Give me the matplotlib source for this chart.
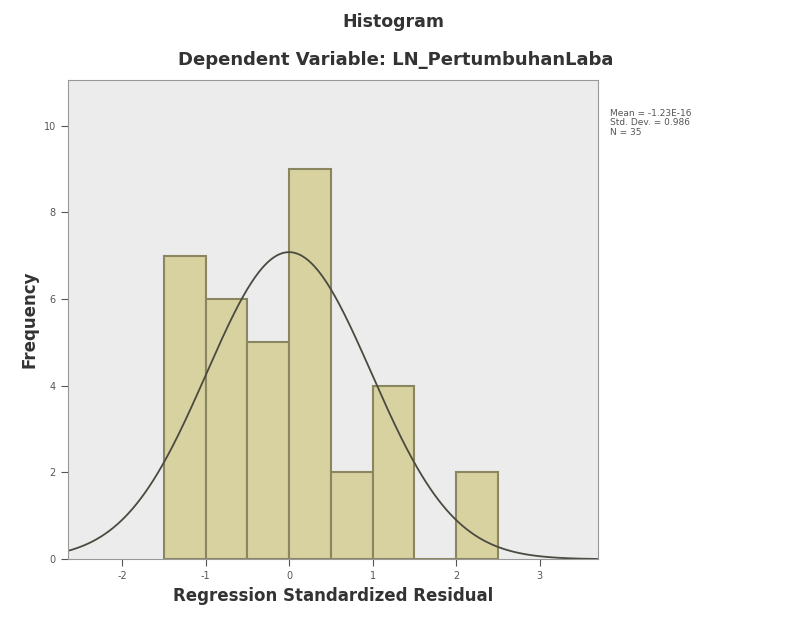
import numpy as np
import matplotlib.pyplot as plt

plt.rcParams["axes.unicode_minus"] = False

# bin edges and counts
bin_edges = [-1.5, -1.0, -0.5, 0.0, 0.5, 1.0, 1.5, 2.0, 2.5]
frequencies = [7, 6, 5, 9, 2, 4, 0, 2]
mean_val = 0.0
std_val = 0.986
n_total = 35

x_ticks = [-2, -1, 0, 1, 2, 3]
y_ticks = [0, 2, 4, 6, 8, 10]

fig = plt.figure(figsize=(7.87, 6.2), dpi=100)
ax = fig.add_axes([0.086, 0.098, 0.674, 0.773])
ax.set_facecolor("#ECECEC")

lefts = bin_edges[:-1]
widths = np.diff(bin_edges)
ax.bar(lefts, frequencies, width=widths, align="edge",
       color="#D8D2A0", edgecolor="#8A8760", linewidth=1.5)

# normal curve scaled to the histogram
xs = np.linspace(-2.65, 3.7, 400)
bw = widths[0]
ys = n_total * bw / (std_val * np.sqrt(2 * np.pi)) * np.exp(-0.5 * ((xs - mean_val) / std_val) ** 2)
ax.plot(xs, ys, color="#4A4A40", linewidth=1.3)

ax.set_xlim(-2.65, 3.7)
ax.set_ylim(0, 11.05)
ax.set_xticks(x_ticks)
ax.set_yticks(y_ticks)
ax.tick_params(labelsize=7, colors="#555555", length=5)
for s in ax.spines.values():
    s.set_color("#999999")

ax.set_xlabel("Regression Standardized Residual", fontsize=12, fontweight="bold", color="#333333")
ax.set_ylabel("Frequency", fontsize=12, fontweight="bold", color="#333333", labelpad=4)

fig.text(0.5, 0.965, "Histogram", ha="center", va="center", fontsize=12.5,
         fontweight="bold", color="#333333")
fig.text(0.503, 0.903, "Dependent Variable: LN_PertumbuhanLaba", ha="center", va="center",
         fontsize=13, fontweight="bold", color="#333333")

fig.text(0.775, 0.825, "Mean = -1.23E-16\nStd. Dev. = 0.986\nN = 35",
         ha="left", va="top", fontsize=6.5, color="#555555", linespacing=1.1)

fig.savefig("out.png", dpi=100)
